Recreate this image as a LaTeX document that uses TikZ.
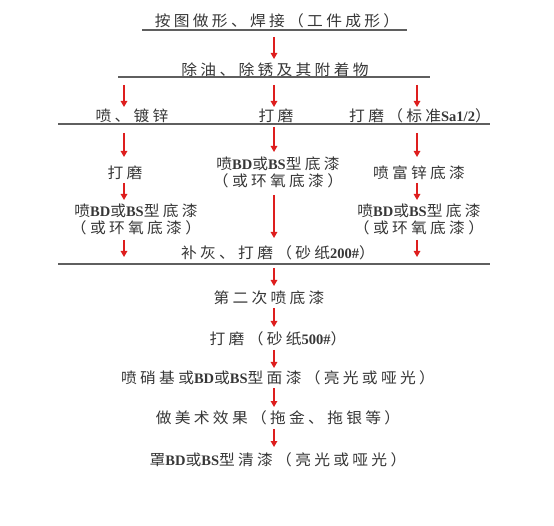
\documentclass[tikz,border=0pt]{standalone}
\usepackage{fontspec}
\usetikzlibrary{arrows.meta}
\newfontfamily\cjk[FakeStretch=1.05,LetterSpace=22]{Noto Sans CJK SC}
\newfontfamily\latf{Liberation Serif}
\newcommand\lt[1]{{\latf\bfseries\fontsize{14.5}{17}\selectfont #1}}
\definecolor{txt}{RGB}{55,55,55}
\definecolor{rule}{RGB}{95,95,95}
\definecolor{arr}{RGB}{222,30,30}
\tikzset{
  lbl/.style={inner sep=0pt, text=txt, align=center, font=\cjk\fontsize{15}{17}\selectfont},
  hline/.style={draw=rule, line width=1.4pt},
  red arrow/.style={draw=arr, line width=1.3pt, -{Triangle[length=6pt,width=6.5pt]}}
}
\begin{document}
\begin{tikzpicture}[x=1pt,y=-1pt]
\fill[white] (0,0) rectangle (554,526);
\useasboundingbox (0,0) rectangle (554,526);
% text nodes
\node[lbl] (t1) at (277,21) {按图做形、焊接（工件成形）};
\node[lbl] (t2) at (275,70) {除油、除锈及其附着物};
\node[lbl] (t3a) at (132,116) {喷、镀锌};
\node[lbl] (t3b) at (276,116) {打磨};
\node[lbl] (t3c) at (420,116) {打磨（标准\lt{Sa1/2}）};
\node[lbl] (t4a) at (125,173) {打磨};
\node[lbl] (t4b) at (278,172) {喷\lt{BD}或\lt{BS}型底漆\\（或环氧底漆）};
\node[lbl] (t4c) at (419,173) {喷富锌底漆};
\node[lbl] (t5a) at (136,219) {喷\lt{BD}或\lt{BS}型底漆\\（或环氧底漆）};
\node[lbl] (t5c) at (419,219) {喷\lt{BD}或\lt{BS}型底漆\\（或环氧底漆）};
\node[lbl] (t6) at (278,253) {补灰、打磨（砂纸\lt{200\#}）};
\node[lbl] (t7) at (269,298) {第二次喷底漆};
\node[lbl] (t8) at (278,339) {打磨（砂纸\lt{500\#}）};
\node[lbl] (t9) at (278,378) {喷硝基或\lt{BD}或\lt{BS}型面漆（亮光或哑光）};
\node[lbl] (t10) at (278,418) {做美术效果（拖金、拖银等）};
\node[lbl] (t11) at (278,460) {罩\lt{BD}或\lt{BS}型清漆（亮光或哑光）};
% rules
\coordinate (l1a) at (142,30); \coordinate (l1b) at (407,30);
\coordinate (l2a) at (118,77); \coordinate (l2b) at (430,77);
\coordinate (l3a) at (58,124); \coordinate (l3b) at (490,124);
\coordinate (l4a) at (58,264); \coordinate (l4b) at (490,264);
\draw[hline] (l1a) -- (l1b);
\draw[hline] (l2a) -- (l2b);
\draw[hline] (l3a) -- (l3b);
\draw[hline] (l4a) -- (l4b);
% arrow ends
\coordinate (a1s) at (274,37);  \coordinate (a1e) at (274,59);
\coordinate (a2s) at (124,85);  \coordinate (a2e) at (124,107);
\coordinate (a3s) at (274,85);  \coordinate (a3e) at (274,107);
\coordinate (a4s) at (417,85);  \coordinate (a4e) at (417,107);
\coordinate (a5s) at (124,133); \coordinate (a5e) at (124,157);
\coordinate (a6s) at (274,127); \coordinate (a6e) at (274,152);
\coordinate (a7s) at (417,133); \coordinate (a7e) at (417,157);
\coordinate (a8s) at (124,183); \coordinate (a8e) at (124,200);
\coordinate (a9s) at (417,183); \coordinate (a9e) at (417,200);
\coordinate (a10s) at (274,195); \coordinate (a10e) at (274,238);
\coordinate (a11s) at (124,240); \coordinate (a11e) at (124,257);
\coordinate (a12s) at (417,240); \coordinate (a12e) at (417,257);
\coordinate (a13s) at (274,268); \coordinate (a13e) at (274,286);
\coordinate (a14s) at (274,308); \coordinate (a14e) at (274,327);
\coordinate (a15s) at (274,350); \coordinate (a15e) at (274,368);
\coordinate (a16s) at (274,388); \coordinate (a16e) at (274,407);
\coordinate (a17s) at (274,429); \coordinate (a17e) at (274,447);
\foreach \i in {1,...,17} {\draw[red arrow] (a\i s) -- (a\i e);}
\end{tikzpicture}
\end{document}
